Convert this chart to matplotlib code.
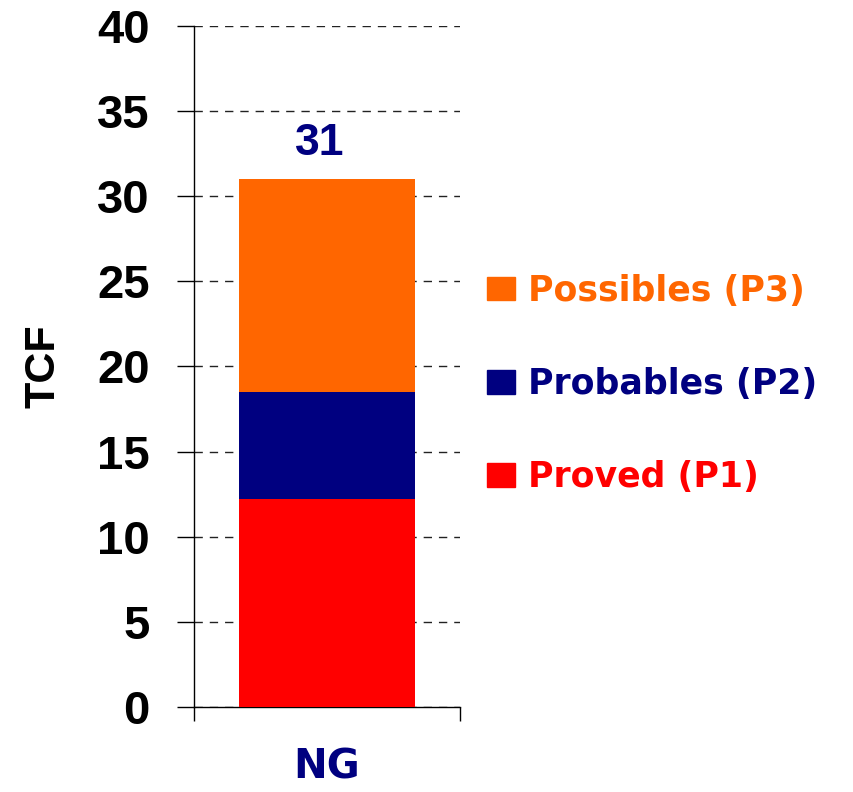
import matplotlib
matplotlib.use("Agg")
import matplotlib.pyplot as plt
from matplotlib.patches import Patch

categories = ["NG"]
proved = [12.2]
probables = [6.3]
possibles = [12.5]
total_label = ["31"]
series_names = ["Possibles (P3)", "Probables (P2)", "Proved (P1)"]
yticks = [0, 5, 10, 15, 20, 25, 30, 35, 40]

c_p1 = "#FF0000"
c_p2 = "#000080"
c_p3 = "#FF6600"

plt.rcParams['font.family'] = ['Liberation Sans', 'DejaVu Sans']

fig = plt.figure(figsize=(8.54, 7.92), dpi=100)
ax = fig.add_axes([194/854, 1-707/792, (460-194)/854, (707-26)/792])

x = list(range(len(categories)))
w = 0.66
ax.bar(x, proved, width=w, color=c_p1, zorder=3)
ax.bar(x, probables, width=w, bottom=proved, color=c_p2, zorder=3)
b3 = [p + q for p, q in zip(proved, probables)]
ax.bar(x, possibles, width=w, bottom=b3, color=c_p3, zorder=3)
tops = [a + b for a, b in zip(b3, possibles)]
for xi, t, lab in zip(x, tops, total_label):
    ax.text(xi - 0.028, t + 1.4, lab, ha='center', va='baseline', fontsize=32,
            fontweight='bold', color=c_p2)

ax.set_xlim(-0.5, 0.5)
ax.set_ylim(0, 40)
ax.set_yticks(yticks)
ax.set_yticklabels([str(v) for v in yticks], fontsize=34, fontweight='bold')
ax.tick_params(axis='y', length=12, width=1, pad=20, direction='out')
ax.set_xticks(x)
ax.set_xticklabels(categories, fontsize=29, fontweight='bold', color=c_p2,
                   family='DejaVu Sans')
ax.tick_params(axis='x', which='major', length=0, pad=29)
ax.set_xticks([-0.5, 0.5], minor=True)
ax.tick_params(axis='x', which='minor', length=10, width=1, direction='out')

ax.grid(axis='y', linestyle=(0, (6, 5)), color='#222222', linewidth=1.0, zorder=0)
for s in ['top', 'right']:
    ax.spines[s].set_visible(False)
ax.spines['left'].set_linewidth(1)
ax.spines['bottom'].set_linewidth(1)

ax.set_ylabel("TCF", fontsize=31, fontweight='bold', labelpad=24)

handles = [Patch(color=c_p3), Patch(color=c_p2), Patch(color=c_p1)]
leg = fig.legend(handles, series_names, loc='center left',
                 bbox_to_anchor=(456/854, 1-384/792), frameon=False,
                 handlelength=0.81, handleheight=0.66,
                 handletextpad=0.35, labelspacing=1.7,
                 labelcolor=[c_p3, c_p2, c_p1],
                 prop={'weight': 'bold', 'size': 25, 'family': 'DejaVu Sans'})

fig.savefig("out.png", dpi=100)
